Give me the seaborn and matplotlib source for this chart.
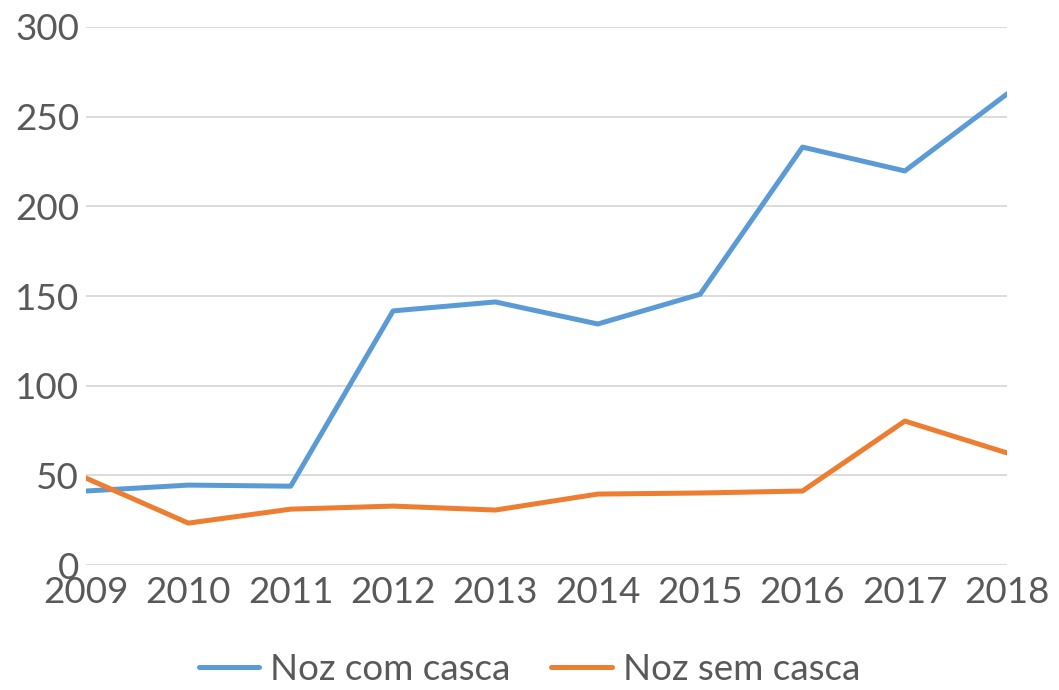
import matplotlib
matplotlib.use("Agg")
import matplotlib.pyplot as plt
import pandas as pd
import seaborn as sns

years = [2009, 2010, 2011, 2012, 2013, 2014, 2015, 2016, 2017, 2018]
com_casca = [41.3, 44.6, 44.0, 141.7, 146.7, 134.4, 151.0, 233.0, 219.7, 262.7]
sem_casca = [48.5, 23.4, 31.2, 32.9, 30.7, 39.6, 40.2, 41.3, 80.3, 62.5]
labels = ["Noz com casca", "Noz sem casca"]
colors = ["#5B9BD5", "#ED7D31"]
y_ticks = [0, 50, 100, 150, 200, 250, 300]


def main():
    sns.set_theme(style="white")
    plt.rcParams["font.family"] = ["Lato", "DejaVu Sans"]

    df = pd.DataFrame({"ano": years, labels[0]: com_casca, labels[1]: sem_casca})
    long = df.melt(id_vars="ano", var_name="serie", value_name="valor")

    fig = plt.figure(figsize=(10.59, 6.9), dpi=100)
    ax = fig.add_axes([0.0812, 0.181, 0.8699, 0.780])

    sns.lineplot(data=long, x="ano", y="valor", hue="serie", hue_order=labels,
                 palette=colors, linewidth=3.6, ax=ax, legend=False)

    ax.set_xlim(years[0], years[-1])
    ax.set_ylim(0, 300)
    ax.set_yticks(y_ticks)
    ax.set_xticks(years)
    ax.set_xlabel("")
    ax.set_ylabel("")
    ax.grid(axis="y", color="#D9D9D9", linewidth=1.3)
    ax.set_axisbelow(True)
    for s in ax.spines.values():
        s.set_visible(False)
    ax.tick_params(axis="both", length=0, labelsize=26.5, colors="#595959")
    ax.tick_params(axis="y", pad=5)
    ax.tick_params(axis="x", pad=8)

    handles = [plt.Line2D([], [], color=c, linewidth=3.6) for c in colors]
    fig.legend(handles, labels, loc="center", bbox_to_anchor=(0.5, 0.03),
               ncol=2, frameon=False, fontsize=26.5, labelcolor="#595959",
               handlelength=1.65, columnspacing=1.1, handletextpad=0.3)

    fig.savefig("out.png", dpi=100)


if __name__ == "__main__":
    main()
